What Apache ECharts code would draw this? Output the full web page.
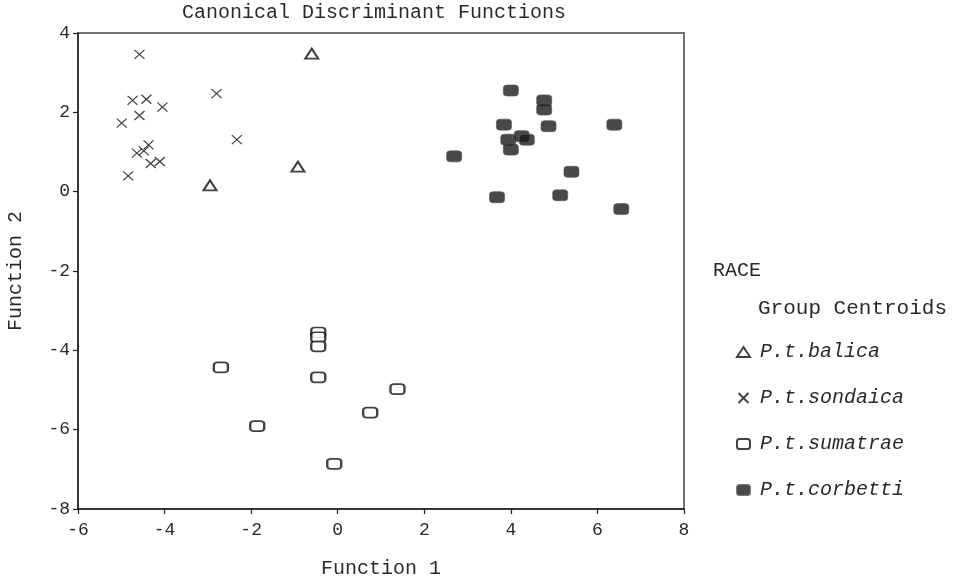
<!DOCTYPE html>
<html>
<head>
<meta charset="utf-8">
<title>Canonical Discriminant Functions</title>
<script src="https://cdn.jsdelivr.net/npm/echarts@6/dist/echarts.min.js"></script>
<style>
  html, body { margin: 0; padding: 0; background: #fff; }
  #chart { width: 963px; height: 577px; }
</style>
</head>
<body>
<div id="chart"></div>
<script>
// Group centroids on the first two canonical discriminant functions: [Function 1, Function 2]
const balica = [[-0.60, 3.48], [-2.95, 0.16], [-0.92, 0.63]];
const sondaica = [
  [-4.58, 3.46], [-4.74, 2.30], [-4.42, 2.33], [-4.05, 2.13], [-4.58, 1.92],
  [-4.99, 1.73], [-4.37, 1.18], [-4.48, 1.03], [-4.64, 0.97], [-4.32, 0.71],
  [-4.11, 0.76], [-4.84, 0.40], [-2.80, 2.47], [-2.33, 1.31]
];
const sumatrae = [
  [-0.45, -3.55], [-0.45, -3.67], [-0.45, -3.90], [-0.45, -4.68], [-2.70, -4.43],
  [1.38, -4.98], [0.75, -5.57], [-1.86, -5.91], [-0.08, -6.86]
];
const corbetti = [
  [4.00, 2.55], [4.77, 2.30], [4.77, 2.07], [3.84, 1.69], [4.87, 1.65],
  [6.39, 1.69], [3.94, 1.31], [4.25, 1.40], [4.37, 1.31], [4.00, 1.06],
  [2.69, 0.89], [5.40, 0.50], [3.68, -0.14], [5.14, -0.09], [6.55, -0.44]
];
const groupNames = ['P.t.balica', 'P.t.sondaica', 'P.t.sumatrae', 'P.t.corbetti'];
const xTicks = { min: -6, max: 8, step: 2 };
const yTicks = { min: -8, max: 4, step: 2 };

const FONT = '"Liberation Mono", "DejaVu Sans Mono", monospace';
const INK = '#2a2a2a';

const crossPath = 'path://M0,0L10,10M10,0L0,10';

const chart = echarts.init(document.getElementById('chart'), null, { renderer: 'canvas' });

chart.setOption({
  animation: false,
  backgroundColor: '#ffffff',
  title: {
    text: 'Canonical Discriminant Functions',
    left: 177,
    top: -2,
    textStyle: { fontFamily: FONT, fontSize: 20, fontWeight: 'normal', color: INK }
  },
  grid: {
    left: 78, right: 279, top: 33, bottom: 68,
    outerBoundsMode: 'none',
    show: true, borderColor: '#444', borderWidth: 1.5, backgroundColor: '#fff'
  },
  xAxis: {
    type: 'value',
    min: xTicks.min, max: xTicks.max, interval: xTicks.step,
    name: 'Function 1', nameLocation: 'middle', nameGap: 50,
    nameTextStyle: { fontFamily: FONT, fontSize: 20, color: INK },
    axisLine: { show: true, onZero: false, lineStyle: { color: '#222', width: 1.5 } },
    axisTick: { show: true, inside: false, length: 5, lineStyle: { color: '#222', width: 1.2 } },
    axisLabel: { fontFamily: FONT, fontSize: 18, color: INK, margin: 12 },
    splitLine: { show: false }
  },
  yAxis: {
    type: 'value',
    min: yTicks.min, max: yTicks.max, interval: yTicks.step,
    name: 'Function 2', nameLocation: 'middle', nameGap: 52,
    nameTextStyle: { fontFamily: FONT, fontSize: 20, color: INK },
    axisLine: { show: true, onZero: false, lineStyle: { color: '#222', width: 1.5 } },
    axisTick: { show: true, inside: false, length: 5, lineStyle: { color: '#222', width: 1.2 } },
    axisLabel: { fontFamily: FONT, fontSize: 18, color: INK, margin: 8 },
    splitLine: { show: false }
  },
  legend: {
    orient: 'vertical',
    left: 731, top: 337,
    itemWidth: 13, itemHeight: 10, itemGap: 26,
    textStyle: { fontFamily: FONT, fontSize: 20, fontStyle: 'italic', color: INK, padding: [0, 0, 0, 5] },
    data: groupNames
  },
  graphic: [
    { type: 'text', left: 713, top: 261, style: { text: 'RACE', font: '20px ' + FONT, fill: INK } },
    { type: 'text', left: 758, top: 298, style: { text: 'Group Centroids', font: '21px ' + FONT, fill: INK } }
  ],
  series: [
    {
      name: groupNames[0], type: 'scatter', data: balica,
      symbol: 'emptyTriangle', symbolSize: [13, 10],
      itemStyle: { color: '#111', borderColor: '#111', borderWidth: 1.3 }
    },
    {
      name: groupNames[1], type: 'scatter', data: sondaica,
      symbol: crossPath, symbolSize: [10, 9],
      itemStyle: { color: 'rgba(0,0,0,0)', borderColor: '#111', borderWidth: 1.2 }
    },
    {
      name: groupNames[2], type: 'scatter', data: sumatrae,
      symbol: 'emptyRoundRect', symbolSize: [14, 10],
      itemStyle: { color: '#111', borderColor: '#111', borderWidth: 1.4 }
    },
    {
      name: groupNames[3], type: 'scatter', data: corbetti,
      symbol: 'roundRect', symbolSize: [15, 11],
      itemStyle: { color: '#1c1c1c', borderColor: '#555', borderWidth: 0.8 }
    }
  ]
});
</script>
</body>
</html>
